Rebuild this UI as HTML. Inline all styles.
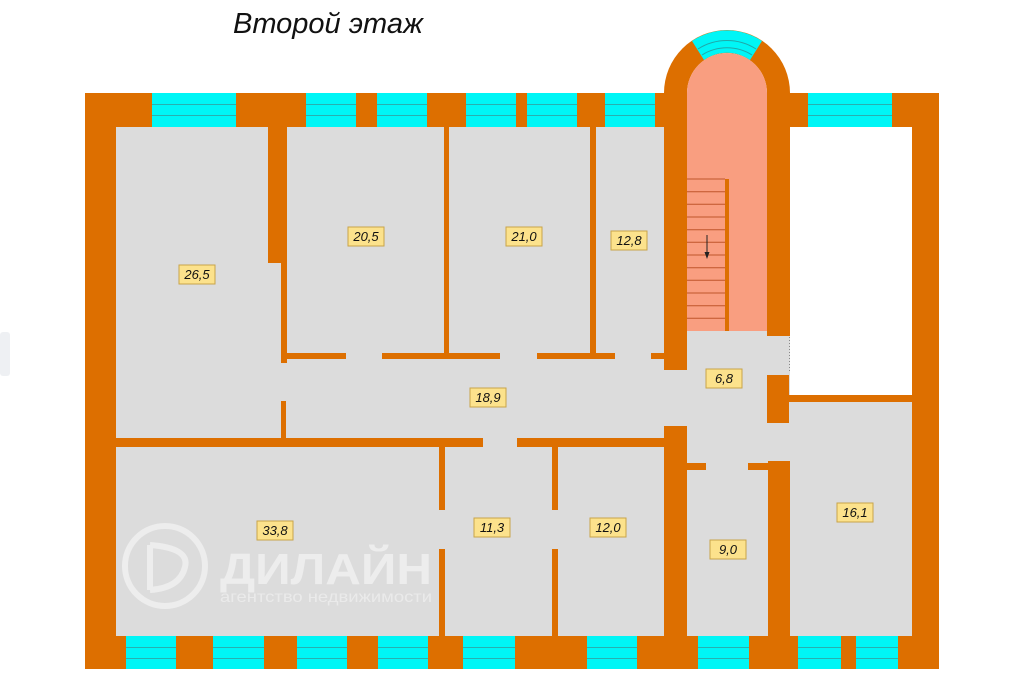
<!DOCTYPE html>
<html><head><meta charset="utf-8"><style>
html,body{margin:0;padding:0;background:#fff;width:1022px;height:698px;overflow:hidden}
svg text{font-family:"Liberation Sans",sans-serif}
</style></head><body>
<svg width="1022" height="698" viewBox="0 0 1022 698" xmlns="http://www.w3.org/2000/svg">
<rect x="0" y="332" width="10" height="44" rx="3" fill="#eef0f3"/>
<text x="233" y="33" font-size="29" font-style="italic" fill="#111">Второй этаж</text>
<rect x="116" y="127" width="796" height="509" fill="#dcdcdc"/>
<rect x="790" y="127" width="122" height="268" fill="#fff"/>
<g fill="#dd6f00">
<rect x="85" y="93" width="854" height="34"/>
<rect x="85" y="93" width="31" height="576"/>
<rect x="912" y="93" width="27" height="576"/>
<rect x="85" y="636" width="854" height="33"/>
</g>
<path d="M664 370 L664 93 A63 63 0 0 1 790 93 L790 336 L767 336 L767 93 A40 40 0 0 0 687 93 L687 370 Z" fill="#dd6f00"/>
<path d="M687 331 L687 93 A40 40 0 0 1 767 93 L767 331 Z" fill="#f99e80"/>
<rect x="687" y="331" width="80" height="6" fill="#dcdcdc"/>
<path d="M692 41 A63 63 0 0 1 762 41 L750 60 A40 40 0 0 0 704 60 Z" fill="#00f6f6"/>
<path d="M698 49 A54 54 0 0 1 756 49 M702 55 A47 47 0 0 1 752 55" fill="none" stroke="#20a8a8" stroke-width="1"/>
<g stroke="#c0552a" stroke-width="1">
<line x1="687" y1="179" x2="725" y2="179"/><line x1="687" y1="191.7" x2="725" y2="191.7"/><line x1="687" y1="204.3" x2="725" y2="204.3"/><line x1="687" y1="217" x2="725" y2="217"/><line x1="687" y1="229.7" x2="725" y2="229.7"/><line x1="687" y1="242.3" x2="725" y2="242.3"/><line x1="687" y1="255" x2="725" y2="255"/><line x1="687" y1="267.7" x2="725" y2="267.7"/><line x1="687" y1="280.3" x2="725" y2="280.3"/><line x1="687" y1="293" x2="725" y2="293"/><line x1="687" y1="305.7" x2="725" y2="305.7"/><line x1="687" y1="318.3" x2="725" y2="318.3"/>
</g>
<rect x="725" y="179" width="4" height="152" fill="#dd6f00"/>
<line x1="707" y1="235" x2="707" y2="254" stroke="#222" stroke-width="1"/>
<path d="M704.5 252 L709.5 252 L707 259 Z" fill="#222"/>
<line x1="789.5" y1="337" x2="789.5" y2="373" stroke="#888" stroke-width="1" stroke-dasharray="1,2"/>
<g fill="#00f6f6">
<rect x="152" y="93" width="84" height="34"/><rect x="306" y="93" width="50" height="34"/><rect x="377" y="93" width="50" height="34"/><rect x="466" y="93" width="50" height="34"/><rect x="527" y="93" width="50" height="34"/><rect x="605" y="93" width="50" height="34"/><rect x="808" y="93" width="84" height="34"/>
<rect x="126" y="636" width="50" height="33"/><rect x="213" y="636" width="51" height="33"/><rect x="297" y="636" width="50" height="33"/><rect x="378" y="636" width="50" height="33"/><rect x="463" y="636" width="52" height="33"/><rect x="587" y="636" width="50" height="33"/><rect x="698" y="636" width="51" height="33"/><rect x="798" y="636" width="43" height="33"/><rect x="856" y="636" width="42" height="33"/>
</g>
<g stroke="#28b0b0" stroke-width="1">
<line x1="152" y1="104.5" x2="655" y2="104.5"/><line x1="152" y1="115.5" x2="655" y2="115.5"/>
<line x1="808" y1="104.5" x2="892" y2="104.5"/><line x1="808" y1="115.5" x2="892" y2="115.5"/>
<line x1="126" y1="647.5" x2="898" y2="647.5"/><line x1="126" y1="658.5" x2="898" y2="658.5"/>
</g>
<g fill="#dd6f00">
<rect x="236" y="93" width="70" height="34"/><rect x="356" y="93" width="21" height="34"/><rect x="427" y="93" width="39" height="34"/><rect x="516" y="93" width="11" height="34"/><rect x="577" y="93" width="28" height="34"/><rect x="655" y="93" width="9" height="34"/>
<rect x="176" y="636" width="37" height="33"/><rect x="264" y="636" width="33" height="33"/><rect x="347" y="636" width="31" height="33"/><rect x="428" y="636" width="35" height="33"/><rect x="515" y="636" width="72" height="33"/><rect x="637" y="636" width="61" height="33"/><rect x="749" y="636" width="49" height="33"/><rect x="841" y="636" width="15" height="33"/>
</g>
<g fill="#dd6f00">
<rect x="268" y="127" width="19" height="136"/>
<rect x="281" y="263" width="6" height="100"/>
<rect x="287" y="353" width="59" height="6"/>
<rect x="382" y="353" width="118" height="6"/>
<rect x="537" y="353" width="78" height="6"/>
<rect x="651" y="353" width="13" height="6"/>
<rect x="444" y="127" width="5" height="228"/>
<rect x="590" y="127" width="6" height="228"/>
<rect x="281" y="401" width="5" height="40"/>
<rect x="116" y="438" width="367" height="9"/>
<rect x="517" y="438" width="147" height="9"/>
<rect x="439" y="447" width="6" height="63"/>
<rect x="439" y="549" width="6" height="87"/>
<rect x="552" y="447" width="6" height="63"/>
<rect x="552" y="549" width="6" height="87"/>
<rect x="664" y="426" width="23" height="210"/>
<rect x="687" y="463" width="19" height="7"/>
<rect x="748" y="463" width="20" height="7"/>
<rect x="768" y="461" width="22" height="175"/>
<rect x="767" y="375" width="22" height="48"/>
<rect x="789" y="395" width="123" height="7"/>
</g>
<g opacity="0.9">
<circle cx="165" cy="566" r="40" fill="none" stroke="#efefef" stroke-width="6"/>
<path d="M150 545 L150 590 M150 545 Q190 548 185 567 Q180 588 150 590" fill="none" stroke="#efefef" stroke-width="6"/>
<text x="220" y="584" font-size="44" font-weight="bold" fill="#efefef" textLength="212" lengthAdjust="spacingAndGlyphs">ДИЛАЙН</text>
<text x="220" y="602" font-size="16" fill="#ececec" textLength="212" lengthAdjust="spacingAndGlyphs">агентство недвижимости</text>
</g>
<g font-size="13" font-style="italic" fill="#111" text-anchor="middle">
<g fill="#fce28c" stroke="#c9a44a" stroke-width="1">
<rect x="179" y="265" width="36" height="19"/><rect x="348" y="227" width="36" height="19"/><rect x="506" y="227" width="36" height="19"/><rect x="611" y="231" width="36" height="19"/><rect x="470" y="388" width="36" height="19"/><rect x="706" y="369" width="36" height="19"/><rect x="257" y="521" width="36" height="19"/><rect x="474" y="518" width="36" height="19"/><rect x="590" y="518" width="36" height="19"/><rect x="710" y="540" width="36" height="19"/><rect x="837" y="503" width="36" height="19"/>
</g>
<text x="197" y="279">26,5</text><text x="366" y="241">20,5</text><text x="524" y="241">21,0</text><text x="629" y="245">12,8</text><text x="488" y="402">18,9</text><text x="724" y="383">6,8</text><text x="275" y="535">33,8</text><text x="492" y="532">11,3</text><text x="608" y="532">12,0</text><text x="728" y="554">9,0</text><text x="855" y="517">16,1</text>
</g>
</svg>
</body></html>
